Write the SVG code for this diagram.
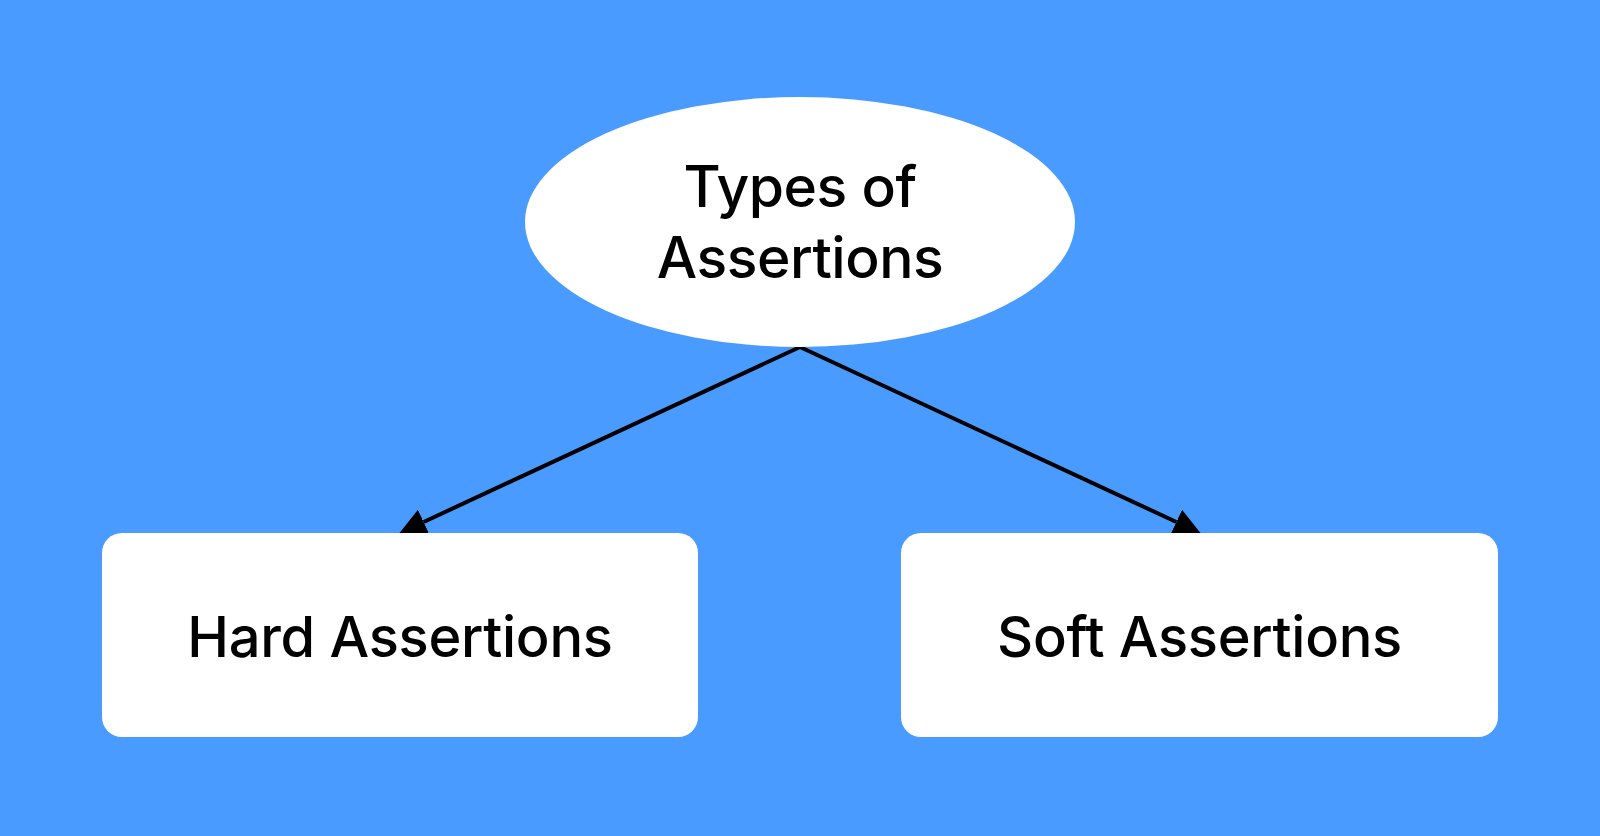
<svg xmlns="http://www.w3.org/2000/svg" width="1600" height="836" viewBox="0 0 1600 836">
<style>
.bg{fill:#4a9bff}
.node{fill:#ffffff}
.lbl{font-family:Inter,"Liberation Sans",Arial,sans-serif;font-weight:500;fill:#000;text-anchor:middle}
.edge{stroke:#000;stroke-width:4;fill:none}
</style>
<defs>
<marker id="arrow" markerUnits="userSpaceOnUse" markerWidth="27" markerHeight="27" viewBox="0 0 26 26" refX="0" refY="13" orient="auto">
<path d="M0,0 L26,13 L0,26 Z" fill="#000"/>
</marker>
</defs>
<rect class="bg" x="0" y="0" width="1600" height="836"/>
<g id="connectors">
<path class="edge" d="M800,347 L423.6,522" marker-end="url(#arrow)"/>
<path class="edge" d="M800,347 L1176.4,522" marker-end="url(#arrow)"/>
</g>
<g id="node-types">
<ellipse class="node" cx="800" cy="222" rx="275" ry="125"/>
<text class="lbl" x="800" y="207" font-size="57" letter-spacing="-0.5">Types of</text>
<text class="lbl" x="800" y="278" font-size="57" letter-spacing="-0.5">Assertions</text>
</g>
<g id="node-hard">
<rect class="node" x="102" y="533" width="596" height="204" rx="20" ry="20"/>
<text class="lbl" x="400" y="657" font-size="56" letter-spacing="-0.3">Hard Assertions</text>
</g>
<g id="node-soft">
<rect class="node" x="901" y="533" width="597" height="204" rx="20" ry="20"/>
<text class="lbl" x="1199.5" y="657" font-size="56" letter-spacing="-0.3">Soft Assertions</text>
</g>
</svg>
